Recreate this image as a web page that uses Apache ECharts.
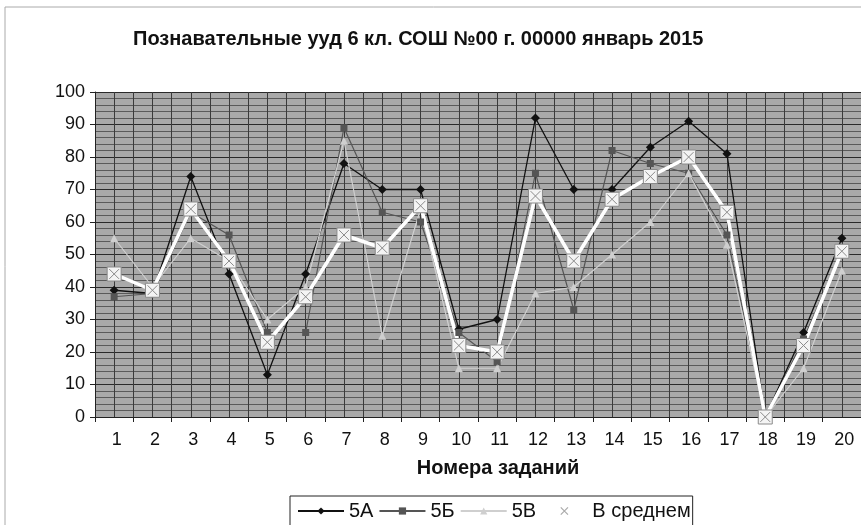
<!DOCTYPE html>
<html><head><meta charset="utf-8">
<script src="https://cdn.jsdelivr.net/npm/echarts@6/dist/echarts.min.js"></script>
<style>html,body{margin:0;padding:0;background:#fff}#c{width:861px;height:525px}</style>
</head><body><div id="c"></div>
<script>
const categories = ['1','2','3','4','5','6','7','8','9','10','11','12','13','14','15','16','17','18','19','20'];
const s5A = [39,38,74,44,13,44,78,70,70,27,30,92,70,70,83,91,81,0,26,55];
const s5B = [37,38,63,56,26,26,89,63,60,26,17,75,33,82,78,75,56,0,24,51];
const s5V = [55,40,55,48,30,40,85,25,64,15,15,38,40,50,60,75,53,0,15,45];
const sAvg = [44,39,64,48,23,37,56,52,65,22,20,68,48,67,74,80,63,0,22,51];
const seriesNames = ['5А','5Б','5В','В среднем'];

const chart = echarts.init(document.getElementById('c'));
const F = '"Liberation Sans", Arial, sans-serif';
const xSym = 'path://M0,0L10,0L10,10L0,10Z M1.5,1.5L8.5,8.5 M8.5,1.5L1.5,8.5';
const xOnly = 'path://M0,0M19,1L27,9M27,1L19,9M46,10';
chart.setOption({
  backgroundColor: '#fff',
  animation: false,
  title: {
    text: 'Познавательные ууд 6 кл. СОШ №00 г. 00000 январь 2015',
    left: 128, top: 24,
    textStyle: {fontFamily: F, fontSize: 20, fontWeight: 'bold', color: '#111'}
  },
  graphic: [{
    type: 'rect', shape: {x: 5, y: 7, width: 900, height: 600},
    style: {fill: 'none', stroke: '#aaa', lineWidth: 1}, silent: true
  }],
  legend: {
    left: 290, top: 496,
    data: [seriesNames[0], seriesNames[1], seriesNames[2], {name: seriesNames[3], icon: xOnly, itemStyle: {color: 'none', borderColor: '#aaa', borderWidth: 1.2}}],
    itemWidth: 46, itemHeight: 9, itemGap: 5,
    borderColor: '#222', borderWidth: 1, padding: [5, 2, 8, 7],
    textStyle: {fontFamily: F, fontSize: 20, color: '#111'}
  },
  grid: {left: 95, top: 92, right: -14, bottom: 108, show: true, backgroundColor: '#a9a9a9', borderColor: '#333', borderWidth: 0},
  xAxis: [{
    type: 'category', data: categories, boundaryGap: true,
    name: 'Номера заданий', nameLocation: 'middle', nameGap: 41,
    nameTextStyle: {fontFamily: F, fontSize: 20, fontWeight: 'bold', color: '#111', padding: [0, 0, 0, 40]},
    axisLine: {lineStyle: {color: '#222', width: 1}},
    axisTick: {show: true, length: 5, lineStyle: {color: '#222'}},
    axisLabel: {fontFamily: F, fontSize: 18, color: '#111', margin: 14, padding: [0, 0, 0, 5]},
    splitLine: {show: false}
  }, {
    type: 'value', min: 0, max: 40, interval: 1, position: 'bottom',
    axisLine: {show: false}, axisTick: {show: false}, axisLabel: {show: false},
    splitLine: {show: true, lineStyle: {color: '#3a3a3a', width: 1}}
  }],
  yAxis: {
    type: 'value', min: 0, max: 100, interval: 10,
    axisLine: {show: true, lineStyle: {color: '#222'}},
    axisTick: {show: true, length: 5, lineStyle: {color: '#222'}},
    axisLabel: {fontFamily: F, fontSize: 18, color: '#111', margin: 10},
    splitLine: {show: true, lineStyle: {color: '#2a2a2a', width: 1.2}},
    minorTick: {show: false, splitNumber: 5},
    minorSplitLine: {show: true, lineStyle: {color: '#5a5a5a', width: 1}}
  },
  series: [
    {name: '5А', type: 'line', data: s5A, symbol: 'diamond', symbolSize: 9,
     lineStyle: {color: '#111', width: 1.3}, itemStyle: {color: '#111'}},
    {name: '5Б', type: 'line', data: s5B, symbol: 'rect', symbolSize: 7,
     lineStyle: {color: '#555', width: 1.2}, itemStyle: {color: '#555'}},
    {name: '5В', type: 'line', data: s5V, symbol: 'triangle', symbolSize: 8,
     lineStyle: {color: '#cfcfcf', width: 1.2}, itemStyle: {color: '#cfcfcf'}},
    {name: 'В среднем', type: 'line', data: sAvg, symbol: xSym, symbolSize: 14,
     lineStyle: {color: '#ffffff', width: 3.5},
     itemStyle: {color: '#f4f4f4', borderColor: '#8a8a8a', borderWidth: 1}}
  ]
});
</script></body></html>
